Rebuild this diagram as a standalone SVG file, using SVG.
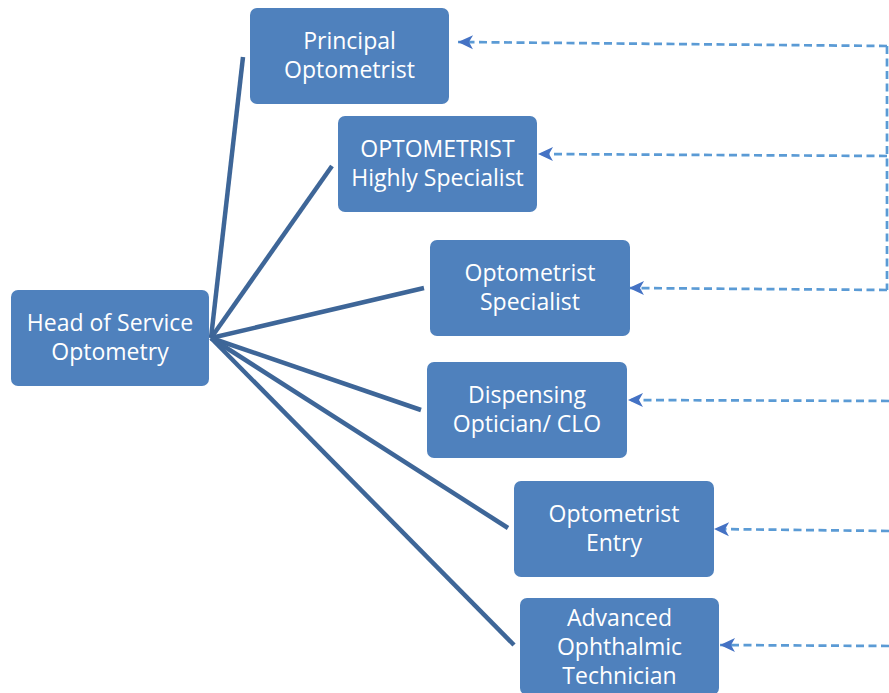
<svg xmlns="http://www.w3.org/2000/svg" width="889" height="693" viewBox="0 0 889 693">
<style>
.box{fill:#4f81bd;}
.lbl{font-family:"Open Sans","Liberation Sans",sans-serif;font-size:23px;fill:#ffffff;text-anchor:middle;}
.solid{stroke:#3e6698;stroke-width:4.5;fill:none;stroke-linecap:butt;}
.dash{stroke:#5b9bd5;stroke-width:2.7;fill:none;stroke-dasharray:8 4.5;marker-end:url(#ah);}
.dashnm{stroke:#5b9bd5;stroke-width:2.7;fill:none;stroke-dasharray:8 4.5;}
</style>
<defs>
<marker id="ah" markerUnits="userSpaceOnUse" markerWidth="18" markerHeight="18" viewBox="-1 -9 18 18" refX="15" refY="0" orient="auto">
<path d="M0,-7 L15,0 L0,7 L4,0 Z" fill="#4472c4"/>
</marker>
</defs>
<rect width="889" height="693" fill="#ffffff"/>
<g id="connectors">
<line class="solid" x1="211" y1="338" x2="243" y2="57"/>
<line class="solid" x1="211" y1="338" x2="332" y2="166"/>
<line class="solid" x1="211" y1="338" x2="424" y2="288"/>
<line class="solid" x1="211" y1="338" x2="421" y2="410"/>
<line class="solid" x1="211" y1="338" x2="508" y2="528"/>
<line class="solid" x1="211" y1="338" x2="514" y2="645"/>
<line class="dashnm" x1="887" y1="46" x2="887" y2="290"/>
<path class="dash" d="M887,46 L458,42"/>
<path class="dash" d="M887,156 L538,154"/>
<path class="dash" d="M887,290 L629,288"/>
<path class="dash" d="M889,401 L628,400"/>
<path class="dash" d="M889,531 L714,529"/>
<path class="dash" d="M889,646 L720,645"/>
</g>
<g id="head">
<rect class="box" x="11" y="290" width="198" height="96" rx="7"/>
<text class="lbl" x="110" y="331">Head of Service</text>
<text class="lbl" x="110" y="360">Optometry</text>
</g>
<g id="principal">
<rect class="box" x="250" y="8" width="199" height="96" rx="7"/>
<text class="lbl" x="349.5" y="49">Principal</text>
<text class="lbl" x="349.5" y="78">Optometrist</text>
</g>
<g id="highly-specialist">
<rect class="box" x="338" y="116" width="199" height="96" rx="7"/>
<text class="lbl" x="437.5" y="157">OPTOMETRIST</text>
<text class="lbl" x="437.5" y="186">Highly Specialist</text>
</g>
<g id="specialist">
<rect class="box" x="430" y="240" width="200" height="96" rx="7"/>
<text class="lbl" x="530" y="281">Optometrist</text>
<text class="lbl" x="530" y="310">Specialist</text>
</g>
<g id="dispensing">
<rect class="box" x="427" y="362" width="200" height="96" rx="7"/>
<text class="lbl" x="527" y="403">Dispensing</text>
<text class="lbl" x="527" y="432">Optician/ CLO</text>
</g>
<g id="entry">
<rect class="box" x="514" y="481" width="200" height="96" rx="7"/>
<text class="lbl" x="614" y="522">Optometrist</text>
<text class="lbl" x="614" y="551">Entry</text>
</g>
<g id="technician">
<rect class="box" x="520" y="598" width="199" height="97" rx="7"/>
<text class="lbl" x="619.5" y="626">Advanced</text>
<text class="lbl" x="619.5" y="655">Ophthalmic</text>
<text class="lbl" x="619.5" y="684">Technician</text>
</g>
</svg>
